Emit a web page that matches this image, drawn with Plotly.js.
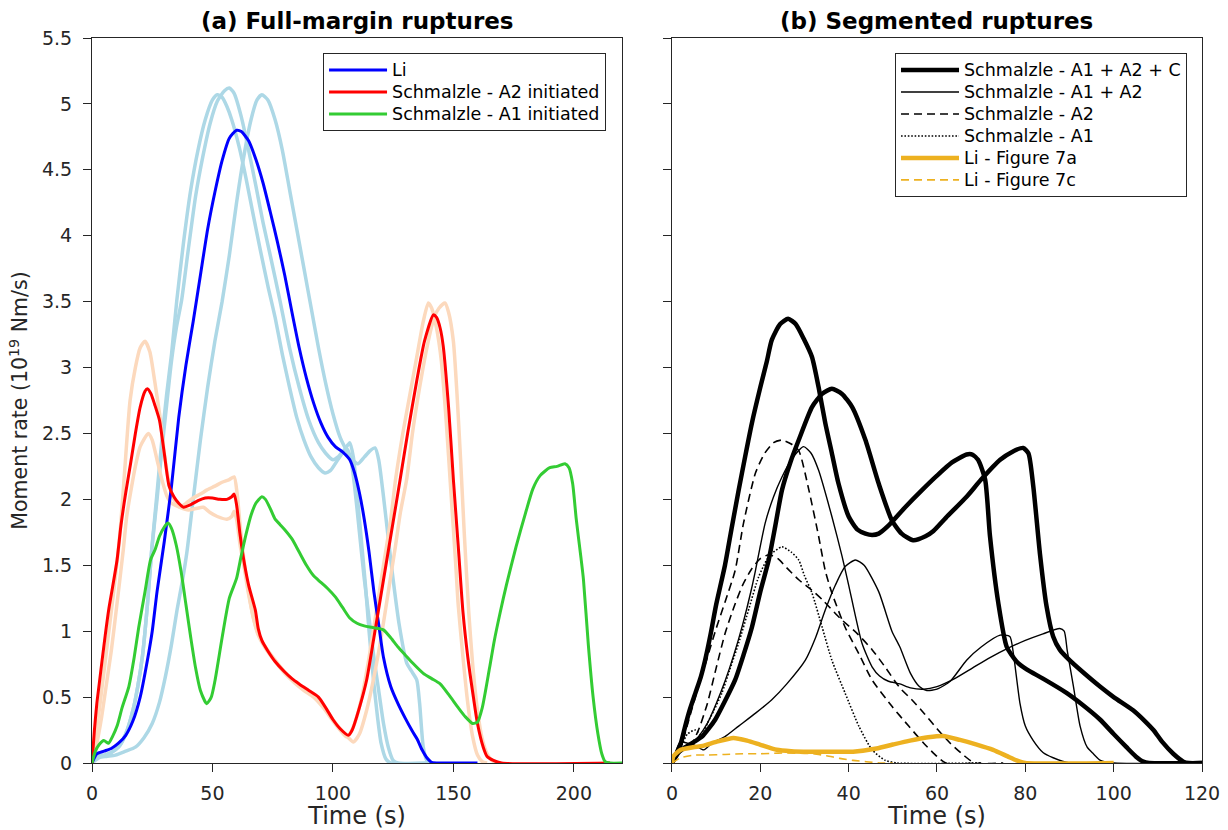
<!DOCTYPE html>
<html>
<head>
<meta charset="utf-8">
<script src="https://cdn.plot.ly/plotly-3.0.1.min.js"></script>
<style>
  html, body { margin: 0; padding: 0; background: #ffffff; }
  #chart { width: 1228px; height: 830px; }
</style>
</head>
<body>
<div id="chart"></div>
<script>
// ---------- (a) Full-margin ruptures: moment rate (1e19 Nm/s) vs time (s) ----------
const liT = [0,2,5,8,11,14,17,20,23,25,27,30,33,36,39,42,45,48,51,54,57,60,62,65,68,71,74,77,80,83,86,89,92,95,98,101,104,107,109,111,113,115,117,119,121,124,127,130,133,135,137,139,141,145,160];
const liRate = [0,0.07,0.09,0.11,0.15,0.21,0.32,0.5,0.78,1.0,1.3,1.68,2.1,2.62,3.02,3.35,3.7,4.05,4.33,4.57,4.74,4.8,4.79,4.72,4.58,4.4,4.18,3.95,3.7,3.42,3.15,2.92,2.73,2.58,2.47,2.4,2.36,2.3,2.2,2.05,1.85,1.6,1.3,1.05,0.8,0.58,0.45,0.34,0.24,0.18,0.1,0.04,0.005,0,0];

// individual Li model runs (light blue)
const liRunAT = [0,2,5,8,11,14,17,19,21,23,24.8,27,29,31,33,35.2,38,41,44,47,50,52,54,56,58,61,64,67,70,73,76,79,82,85,88,91,94,96.7,99,102,105,107,108.5,110,112,113.5,115,117,118.5,120,122,124,141];
const liRunARate = [0,0.05,0.06,0.08,0.12,0.22,0.4,0.58,0.82,1.2,1.62,2.05,2.45,2.8,3.1,3.51,3.95,4.35,4.65,4.88,5.03,5.07,5.05,4.98,4.88,4.68,4.43,4.15,3.88,3.62,3.38,3.1,2.85,2.62,2.45,2.32,2.24,2.2,2.22,2.3,2.38,2.43,2.32,2.05,1.65,1.35,1.0,0.6,0.35,0.15,0.03,0,0];
const liRunBT = [0,2,5,8,11,14,17,19,21,23,24.8,27,29,31,33,35,37.2,40,43,46,49,52,55,57,59,62,65,68,71,74,78,82,86,90,94,97,100,102,104,106,107.5,109,111,113,115,117,119,121,123,125,127,141];
const liRunBRate = [0,0.05,0.06,0.08,0.12,0.22,0.4,0.58,0.82,1.2,1.62,2.0,2.38,2.72,3.05,3.3,3.51,3.9,4.3,4.6,4.85,5.02,5.1,5.12,5.08,4.9,4.65,4.38,4.1,3.85,3.51,3.15,2.85,2.6,2.43,2.35,2.3,2.32,2.36,2.38,2.3,2.1,1.75,1.4,1.1,0.8,0.55,0.3,0.12,0.02,0,0];
const liRunCT = [0,3,6,9.7,14,18,21.5,25,28,30.4,33,35.3,37.5,39.4,42,45,48,51,54,57,60,63,66,68.5,70.5,73,76,79,82,85,88,91,94,97,100,103,106,108,110.4,113,115.5,117.5,119,121,123,125,127.5,130.6,132.5,134.8,136,137.5,139,141];
const liRunCRate = [0,0.04,0.05,0.06,0.09,0.12,0.19,0.30,0.46,0.65,0.9,1.16,1.38,1.6,2.0,2.45,2.85,3.2,3.5,3.85,4.25,4.6,4.88,5.03,5.07,5.03,4.88,4.65,4.35,4.05,3.75,3.45,3.15,2.88,2.65,2.47,2.36,2.3,2.27,2.32,2.37,2.39,2.3,2.02,1.7,1.39,1.05,0.76,0.7,0.63,0.45,0.12,0.02,0];

// Schmalzle A2-initiated
const a2InitT = [0,1,2,3,4.2,5.5,7,8.5,10.4,12,14,16,18,20,22,23,24.5,26,28,30,32,34,36,38,41,44,47,50,53,56,58,59,60,61.4,63,65,67.8,69,70.5,73,76,80,83,86,90,94,97,100,103,106.4,108,111,114,117,121,124,127.9,131,134.8,138,141.7,143,144.5,145.8,148,150,152,154,156,158.3,160,162.4,164,166.6,170,215];
const a2InitRate = [0,0.25,0.45,0.6,0.78,0.97,1.17,1.33,1.54,1.8,2.05,2.27,2.5,2.7,2.82,2.84,2.8,2.72,2.6,2.35,2.1,2.02,1.97,1.94,1.96,1.99,2.01,2.01,2.0,2.0,2.02,2.04,1.96,1.74,1.54,1.35,1.16,1.02,0.93,0.85,0.77,0.69,0.64,0.6,0.55,0.5,0.42,0.33,0.26,0.21,0.25,0.42,0.63,0.95,1.39,1.72,2.15,2.5,2.9,3.2,3.4,3.38,3.3,3.16,2.7,2.15,1.65,1.14,0.8,0.5,0.3,0.12,0.05,0.02,0,0];
// companion runs (peach)
const a2RunAT = [0,1,3,5,7,9,11.6,13.5,15.8,18,20,22,24,26,28.2,30,32,34,36.5,39,42,45,47.6,51,54,57,59,60.2,61.5,63,65,67,69,72,76,80,84,88,92,96,100,103,106,108.5,111,114,117,120,123,126,128,130.6,133,136,139,142,144,146.5,148,150,151.5,153,154.5,156.4,158,160,162,164,166,168];
const a2RunARate = [0,0.15,0.4,0.7,1.0,1.3,1.74,2.2,2.75,3.0,3.15,3.2,3.12,2.9,2.63,2.35,2.12,2.0,1.94,1.97,2.01,2.04,2.07,2.1,2.13,2.15,2.17,2.05,1.8,1.55,1.3,1.1,0.98,0.88,0.78,0.69,0.62,0.56,0.51,0.43,0.33,0.26,0.2,0.16,0.22,0.4,0.65,0.95,1.3,1.65,1.9,2.15,2.5,2.85,3.15,3.38,3.45,3.49,3.42,3.2,2.8,2.3,1.75,1.14,0.75,0.4,0.18,0.07,0.02,0];
const a2RunBT = [0,2,4,6,8,10,13,14.4,16,18,20,23.4,25,27,29,31,33,36.5,40,43,46.2,49,52,56,58,59,60,61.5,63,65,67,69,72,76,80,84,88,92,96,100,103,105.5,107,109,112,115,118,121,124,126,129,132,135,137.5,139.6,141,143,145,147,149,151,152,154,156,158,160,162,164];
const a2RunBRate = [0,0.15,0.35,0.6,0.85,1.15,1.62,1.87,2.05,2.25,2.4,2.5,2.45,2.3,2.15,2.03,1.97,1.94,1.92,1.93,1.94,1.9,1.87,1.85,1.87,1.91,1.85,1.65,1.5,1.28,1.1,0.97,0.87,0.77,0.68,0.61,0.55,0.5,0.42,0.32,0.25,0.2,0.22,0.3,0.5,0.8,1.15,1.5,1.85,2.15,2.5,2.8,3.1,3.35,3.49,3.45,3.3,3.05,2.6,2.05,1.5,1.2,0.8,0.45,0.2,0.06,0.01,0];

// Schmalzle A1-initiated
const a1InitT = [0,1.4,3,4.9,6.9,8.5,10.4,12.5,15.3,17.5,19.4,22,24.3,26.2,28,30,31.5,33,35,37,39,41,43,45,47.6,49.5,51,54,57,60,61.8,64,66,68,70.5,72,74,76,78,80,83,86,89,92,95,98,101,104,107,110,113,116,119,121,124,127,130,133,137.5,141,144.5,148,152,155,158,160,162,165,167,169.4,172,176,180,183,186,190,193,196.3,198,199.5,201,203,204,206,208,210,211.6,213,215,220];
const a1InitRate = [0,0.09,0.14,0.17,0.15,0.2,0.28,0.42,0.58,0.8,1.03,1.3,1.54,1.62,1.72,1.79,1.82,1.78,1.65,1.45,1.2,0.95,0.72,0.55,0.45,0.5,0.62,0.95,1.25,1.4,1.56,1.74,1.88,1.97,2.02,2.0,1.93,1.85,1.81,1.77,1.7,1.6,1.5,1.42,1.37,1.32,1.26,1.18,1.1,1.06,1.04,1.03,1.02,1.01,0.95,0.88,0.82,0.76,0.68,0.64,0.6,0.52,0.42,0.35,0.3,0.31,0.42,0.72,0.93,1.14,1.35,1.64,1.9,2.08,2.18,2.24,2.25,2.27,2.24,2.12,1.85,1.55,1.39,0.9,0.5,0.22,0.07,0.01,0,0];

// ---------- (b) Segmented ruptures ----------
const a1a2cRunAT = [0,0.75,2,3,4,5.3,6.5,7.5,8.7,10,12,13.5,15.1,16.6,18.1,20,21.5,22.6,24.5,26.3,28,29.8,31.7,33.2,34.7,36.2,37.7,40,42,43.8,45.3,46.8,49,52.8,56.6,60,63.4,66.7,68,69.3,70.9,72,73.9,75.8,78,80.3,84,89.4,93,96.9,100,102.9,105,106.7,108,120];
const a1a2cRunARate = [0,0.05,0.15,0.28,0.4,0.53,0.65,0.78,0.97,1.2,1.5,1.78,2.07,2.33,2.58,2.85,3.05,3.21,3.33,3.37,3.33,3.22,3.08,2.85,2.58,2.35,2.12,1.87,1.77,1.74,1.73,1.74,1.8,1.94,2.07,2.18,2.28,2.34,2.34,2.30,2.15,1.72,1.21,0.88,0.77,0.71,0.64,0.53,0.44,0.33,0.22,0.12,0.05,0.01,0,0];
const a1a2cRunBT = [0,1.5,3,5,6.8,8.3,9.8,12,14.3,16.2,18.1,20,21.9,23.4,24.9,26.8,28.7,31.7,34,36.2,38.5,40.8,43.8,46.8,49.8,52,54.6,57.4,59.2,62,66.7,70,74.3,77,79.5,80.7,81.8,83.3,84.8,86.3,87.8,90,93,96.9,100,104.4,107,109,111,113.5,115.8,117,120];
const a1a2cRunBRate = [0,0.08,0.12,0.16,0.2,0.26,0.33,0.47,0.63,0.82,1.03,1.3,1.54,1.8,2.07,2.28,2.45,2.70,2.8,2.84,2.8,2.70,2.45,2.12,1.84,1.74,1.69,1.72,1.76,1.86,2.02,2.15,2.30,2.36,2.39,2.35,2.10,1.59,1.19,0.96,0.86,0.78,0.69,0.58,0.5,0.40,0.32,0.25,0.16,0.07,0.01,0,0];

const a1a2RunAT = [0,2,4,6,8,10,12,14,16,18,18.9,21.1,23,24.9,27,29.8,31.5,33.2,36.2,38.5,40,43,45.3,47,49,51.6,54,57,60,64,68,72,76,80,84,87.8,88.8,89.5,90.9,92.4,94,95.4,97,100,120];
const a1a2RunARate = [0,0.1,0.14,0.2,0.3,0.45,0.62,0.82,1.05,1.32,1.46,1.82,2.02,2.17,2.3,2.40,2.35,2.22,1.87,1.57,1.35,0.91,0.73,0.66,0.62,0.6,0.57,0.56,0.58,0.64,0.72,0.8,0.87,0.93,0.98,1.02,1.0,0.85,0.58,0.28,0.12,0.07,0.02,0,0];
const a1a2RunBT = [0,1.9,3.5,4.9,7.2,9,12,15.1,19,22.6,26,30.2,32.5,34.7,37,39.2,41.5,43.5,46.8,49.8,51.6,54,56,57.7,60,63,66.7,70,74.3,76.5,77.3,78.8,80,81.8,84,86.3,90,120];
const a1a2RunBRate = [0,0.16,0.15,0.14,0.1,0.15,0.2,0.28,0.38,0.48,0.6,0.78,0.95,1.16,1.35,1.49,1.54,1.5,1.3,1.0,0.88,0.68,0.58,0.55,0.56,0.62,0.78,0.88,0.97,0.96,0.83,0.45,0.28,0.17,0.08,0.04,0,0];

const a2RunSegAT = [0,2,4,6,8,10,12,14.3,16.2,18.9,21,23,24.9,27,28.7,31,33.2,34.7,36.2,39.2,42.3,45.3,49.8,53.6,57,60,62,70];
const a2RunSegARate = [0,0.12,0.35,0.58,0.8,1.02,1.22,1.46,1.82,2.2,2.35,2.43,2.45,2.42,2.37,2.07,1.72,1.46,1.29,1.03,0.83,0.63,0.43,0.28,0.15,0.05,0,0];
const a2RunSegBT = [0,2,4,6,8,10,12,14,16,18,20,22,24,26,28.7,31.7,34,38,42,45.3,48,51.6,54.3,57,60,63,66,68.5,75];
const a2RunSegBRate = [0,0.1,0.12,0.25,0.45,0.72,0.98,1.18,1.35,1.47,1.55,1.58,1.55,1.48,1.39,1.31,1.24,1.1,0.98,0.86,0.74,0.57,0.48,0.38,0.26,0.15,0.06,0,0];

const a1RunSegT = [0,2,3.5,5.3,6.8,8,9.5,11.3,13,15.1,17.5,19.6,22,24.9,27,28.7,30,31.7,34,36.2,39.2,42.3,45.3,48.3,51,70];
const a1RunSegRate = [0,0.12,0.22,0.25,0.21,0.3,0.4,0.53,0.7,0.91,1.18,1.41,1.57,1.64,1.6,1.54,1.42,1.29,1.03,0.78,0.53,0.28,0.10,0.02,0,0];

const li7aT = [0,0.3,2,4.8,7,10,13.9,17,19.9,23.7,27,31.2,36,41,46.3,50,53.9,58,61.4,65.2,69,72.7,76,78,80,100];
const li7aRate = [0,0.05,0.1,0.12,0.13,0.16,0.19,0.17,0.14,0.10,0.09,0.086,0.085,0.086,0.11,0.14,0.17,0.195,0.205,0.175,0.14,0.10,0.05,0.02,0,0];
const li7cT = [0,2,5,8,12,16,20,24,28,32,35,38,41,44,47,50];
const li7cRate = [0,0.04,0.06,0.06,0.065,0.07,0.07,0.075,0.075,0.07,0.055,0.035,0.02,0.01,0,0];

// ---------- styling ----------
const AXIS_COLOR = '#262626';
const FONT = 'DejaVu Sans, Verdana, sans-serif';
const LEGEND_TEXT_PX = 17.5;

function label(text) {
  return '<span style="font-size:' + LEGEND_TEXT_PX + 'px">' + text + '</span>';
}

function curve(x, y, color, width, extra) {
  const line = { color: color, width: width, shape: 'spline', smoothing: 0.6 };
  if (extra && extra.dash) line.dash = extra.dash;
  const t = { type: 'scatter', mode: 'lines', x: x, y: y, hoverinfo: 'skip', showlegend: false, line: line };
  if (extra && extra.name) { t.name = label(extra.name); t.showlegend = true; }
  if (extra && extra.panelB) { t.xaxis = 'x2'; t.yaxis = 'y2'; t.legend = 'legend2'; }
  return t;
}

const lightBlue = '#add8e6';
const peach = '#fcd9bd';
const DASH = '8px,5px';
const DOT = '1.6px,1.8px';

const traces = [
  // panel (a) background runs
  curve(liRunAT, liRunARate, lightBlue, 3.5),
  curve(liRunBT, liRunBRate, lightBlue, 3.5),
  curve(liRunCT, liRunCRate, lightBlue, 3.5),
  curve(a2RunAT, a2RunARate, peach, 3.5),
  curve(a2RunBT, a2RunBRate, peach, 3.5),
  // panel (a) main curves
  curve(liT, liRate, '#0000ff', 3, { name: 'Li' }),
  curve(a2InitT, a2InitRate, '#ff0000', 3, { name: 'Schmalzle - A2 initiated' }),
  curve(a1InitT, a1InitRate, '#33cc33', 3, { name: 'Schmalzle - A1 initiated' }),
  // panel (b)
  curve(a1a2cRunAT, a1a2cRunARate, '#000000', 4.5, { panelB: true, name: 'Schmalzle - A1 + A2 + C' }),
  curve(a1a2cRunBT, a1a2cRunBRate, '#000000', 4.5, { panelB: true }),
  curve(a1a2RunAT, a1a2RunARate, '#000000', 1.4, { panelB: true, name: 'Schmalzle - A1 + A2' }),
  curve(a1a2RunBT, a1a2RunBRate, '#000000', 1.4, { panelB: true }),
  curve(a2RunSegAT, a2RunSegARate, '#000000', 1.6, { panelB: true, dash: DASH, name: 'Schmalzle - A2' }),
  curve(a2RunSegBT, a2RunSegBRate, '#000000', 1.6, { panelB: true, dash: DASH }),
  curve(a1RunSegT, a1RunSegRate, '#000000', 1.6, { panelB: true, dash: DOT, name: 'Schmalzle - A1' }),
  curve(li7aT, li7aRate, '#edb120', 4.5, { panelB: true, name: 'Li - Figure 7a' }),
  curve(li7cT, li7cRate, '#edb120', 1.6, { panelB: true, dash: DASH, name: 'Li - Figure 7c' })
];

const axisBase = {
  showgrid: false, zeroline: false, showline: true, mirror: true,
  linecolor: AXIS_COLOR, linewidth: 1,
  ticks: 'outside', ticklen: 8, tickwidth: 1, tickcolor: AXIS_COLOR,
  tickfont: { family: FONT, size: 19, color: AXIS_COLOR }
};

const legendBase = {
  xref: 'paper', yref: 'paper', xanchor: 'right', yanchor: 'top',
  bgcolor: '#ffffff', bordercolor: AXIS_COLOR, borderwidth: 1,
  font: { family: FONT, size: 14.6, color: '#000000' },
  tracegroupgap: 0, traceorder: 'normal', itemwidth: 58
};

const xTitleFont = { family: FONT, size: 24, color: AXIS_COLOR };
const panelTitleFont = { family: FONT, size: 23, color: '#000000' };

const layout = {
  width: 1228, height: 830,
  margin: { l: 92, r: 26, t: 38, b: 67 },
  paper_bgcolor: '#ffffff', plot_bgcolor: '#ffffff',
  font: { family: FONT, color: AXIS_COLOR },
  xaxis: Object.assign({}, axisBase, {
    domain: [0, 0.4775], range: [0, 220], tickvals: [0, 50, 100, 150, 200], ticklabelstandoff: 5,
    title: { text: 'Time (s)', font: xTitleFont, standoff: 4 }
  }),
  yaxis: Object.assign({}, axisBase, {
    range: [0, 5.5], dtick: 0.5, tick0: 0, ticklabelstandoff: 7,
    title: { text: 'Moment rate (10<sup>19</sup> Nm/s)', font: { family: FONT, size: 20.5, color: AXIS_COLOR }, standoff: 8 }
  }),
  xaxis2: Object.assign({}, axisBase, {
    domain: [0.5225, 1], range: [0, 120], dtick: 20, anchor: 'y2', ticklabelstandoff: 5,
    title: { text: 'Time (s)', font: xTitleFont, standoff: 4 }
  }),
  yaxis2: Object.assign({}, axisBase, {
    range: [0, 5.5], dtick: 0.5, tick0: 0, anchor: 'x2', showticklabels: false
  }),
  legend: Object.assign({}, legendBase, { x: 0.4631, y: 0.9793 }),
  legend2: Object.assign({}, legendBase, { x: 0.9865, y: 0.9793 }),
  annotations: [
    { text: '<b>(a) Full-margin ruptures</b>', xref: 'paper', yref: 'paper', x: 0.23875, y: 1,
      xanchor: 'center', yanchor: 'bottom', yshift: 2, showarrow: false, font: panelTitleFont },
    { text: '<b>(b) Segmented ruptures</b>', xref: 'paper', yref: 'paper', x: 0.76125, y: 1,
      xanchor: 'center', yanchor: 'bottom', yshift: 2, showarrow: false, font: panelTitleFont }
  ],
  showlegend: true
};

Plotly.newPlot('chart', traces, layout, { staticPlot: true, displayModeBar: false });
</script>
</body>
</html>
